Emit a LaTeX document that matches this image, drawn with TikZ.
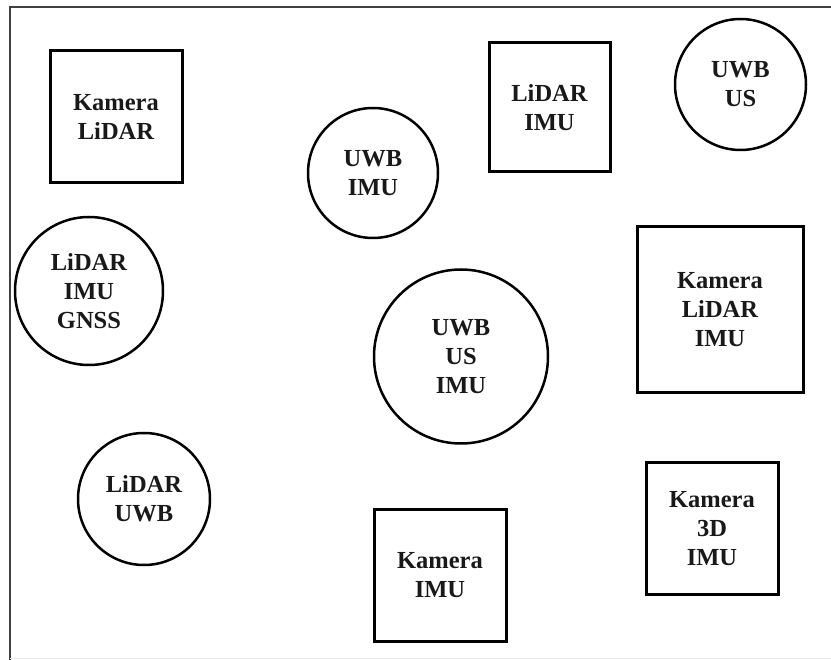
\documentclass[tikz,border=0pt]{standalone}
\usepackage{fontspec}
\setmainfont{Liberation Serif}
\begin{document}
\begin{tikzpicture}[x=1pt,y=-1pt,
  lbl/.style={font=\bfseries\fontsize{24.5}{29}\selectfont, align=center, text=black!90, inner sep=0pt},
  sq/.style={lbl, draw=black, line width=3pt, rectangle},
  rc/.style={lbl, draw=black, line width=2.5pt, circle}]
\useasboundingbox (0,0) rectangle (831,660);
\fill[white] (0,0) rectangle (831,660);
% outer frame (partly visible)
\draw[black!75, line width=1.6pt] (10,660) -- (10,7) -- (831,7);
\draw[black!8, line width=1pt] (10,658) -- (831,658);
% squares
\node[sq, minimum width=132pt, minimum height=132pt] (kl) at (116,117) {Kamera\\LiDAR};
\node[sq, minimum width=121pt, minimum height=129pt] (li) at (549.5,107.5) {LiDAR\\IMU};
\node[sq, minimum width=166pt, minimum height=166pt] (kli) at (720,310) {Kamera\\LiDAR\\IMU};
\node[sq, minimum width=132pt, minimum height=131pt] (ki) at (440,575.5) {Kamera\\IMU};
\node[sq, minimum width=132pt, minimum height=131pt] (k3i) at (712,528.5) {Kamera\\3D\\IMU};
% circles
\node[rc, minimum size=131pt] (uus) at (740.5,84.5) {UWB\\US};
\node[rc, minimum size=130pt] (ui) at (373,173) {UWB\\IMU};
\node[rc, minimum size=148pt] (lig) at (89,291) {LiDAR\\IMU\\GNSS};
\node[rc, minimum size=174pt] (uusi) at (461,356.5) {UWB\\US\\IMU};
\node[rc, minimum size=132pt] (lu) at (144,499) {LiDAR\\UWB};
\end{tikzpicture}
\end{document}
